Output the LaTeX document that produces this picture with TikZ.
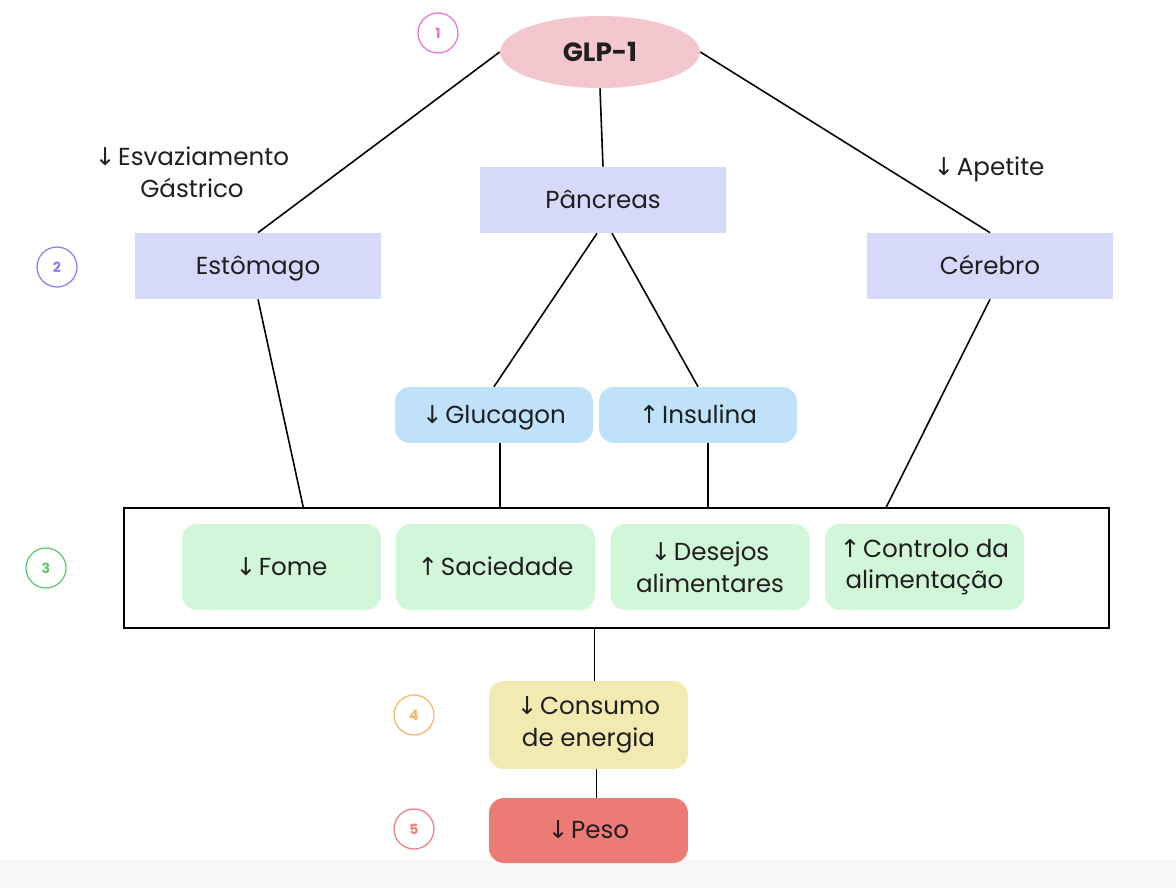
\documentclass[tikz,border=0pt]{standalone}
\usepackage{fontspec}
\setmainfont{Poppins}
\newfontfamily\arrowfont{DejaVu Sans}
\usepackage{tikz}
\usetikzlibrary{shapes.geometric, positioning, calc}

\definecolor{glppink}{HTML}{F4C7CF}
\definecolor{organlav}{HTML}{D7D9FB}
\definecolor{hormblue}{HTML}{BFE2FA}
\definecolor{effgreen}{HTML}{D2F7D8}
\definecolor{energyyel}{HTML}{F3EAB1}
\definecolor{weightred}{HTML}{EC7B78}
\definecolor{stepone}{HTML}{E870D6}
\definecolor{steptwo}{HTML}{8B7CF6}
\definecolor{stepthree}{HTML}{5CC96E}
\definecolor{stepfour}{HTML}{F6B66A}
\definecolor{stepfive}{HTML}{F17C7C}
\definecolor{footgray}{HTML}{F7F7F7}

\newcommand{\dnarr}{{\arrowfont\char"2193}\kern1.5pt}
\newcommand{\uparr}{{\arrowfont\char"2191}\kern1.5pt}

\begin{document}
\begin{tikzpicture}[
    x=0.02cm, y=-0.02cm,
    every node/.style={font=\fontsize{14}{18}\selectfont, text=black!88},
    oneline/.style={text height=11.5pt, text depth=2pt},
    organ/.style={rectangle, fill=organlav, minimum width=4.92cm, minimum height=1.32cm, align=center, oneline},
    hormone/.style={rectangle, fill=hormblue, rounded corners=0.3cm, minimum width=3.96cm, minimum height=1.12cm, align=center, oneline},
    effect/.style={rectangle, fill=effgreen, rounded corners=0.3cm, minimum width=3.98cm, minimum height=1.72cm, align=center},
    stepnum/.style={circle, draw, line width=0.7pt, minimum size=0.8cm, inner sep=0pt, font=\fontsize{8}{9}\selectfont\bfseries},
    note/.style={align=center},
    link/.style={line width=0.9pt, black}
]
\useasboundingbox (0,0) rectangle (1176,888);
\fill[footgray] (0,860) rectangle (1176,888);

% Step numbers (left)
\node[stepnum, draw=stepone, text=stepone] (n1) at (438,33) {1};
\node[stepnum, draw=steptwo, text=steptwo] (n2) at (57,267) {2};
\node[stepnum, draw=stepthree, text=stepthree] (n3) at (46,568) {3};
\node[stepnum, draw=stepfour, text=stepfour] (n4) at (414,715) {4};
\node[stepnum, draw=stepfive, text=stepfive] (n5) at (414,829) {5};

% Hormone
\node[ellipse, fill=glppink, minimum width=4cm, minimum height=1.44cm, font=\fontsize{15}{18}\selectfont\bfseries] (glp) at (600,52) {GLP-1};

% Organs
\node[organ] (panc) at (603,200) {Pâncreas};
\node[organ] (stom) at (258,266) {Estômago};
\node[organ] (cereb) at (990,266) {Cérebro};

% Side notes
\node[note] (esv) at (192,172) {\dnarr Esvaziamento\\Gástrico};
\node[note, oneline] (apet) at (989,167) {\dnarr Apetite};

% Pancreas hormones
\node[hormone] (gluc) at (494,415) {\dnarr Glucagon};
\node[hormone] (insu) at (698,415) {\uparr Insulina};

% Effects
\node[rectangle, draw=black, line width=1pt, minimum width=19.7cm, minimum height=2.4cm] (effects) at (616.5,568) {};
\node[effect, oneline] (fome) at (281.5,567) {\dnarr Fome};
\node[effect, oneline] (saci) at (495.5,567) {\uparr Saciedade};
\node[effect] (desej) at (710,567) {\dnarr Desejos\\alimentares};
\node[effect] (contr) at (924.5,567) {\uparr Controlo da\\alimentação};

% Outcome
\node[rectangle, fill=energyyel, rounded corners=0.3cm, minimum width=3.98cm, minimum height=1.76cm, align=center] (cons) at (588.5,725) {\dnarr Consumo\\de energia};
\node[rectangle, fill=weightred, rounded corners=0.3cm, minimum width=3.98cm, minimum height=1.3cm, align=center, oneline] (peso) at (588.5,830.5) {\dnarr Peso};

% Connectors
\draw[link] (glp.west) -- (stom.north);
\draw[link] (glp.south) -- (panc.north);
\draw[link] (glp.east) -- (cereb.north);
\draw[link] ([xshift=-0.12cm]panc.south) -- (gluc.north);
\draw[link] ([xshift=0.18cm]panc.south) -- (insu.north);
\draw[link] (stom.south) -- ($(effects.north west)+(180,0)$);
\draw[link] ([xshift=0.12cm]gluc.south) -- ([xshift=0.12cm]gluc.south |- effects.north);
\draw[link] ([xshift=0.2cm]insu.south) -- ([xshift=0.2cm]insu.south |- effects.north);
\draw[link] (cereb.south) -- ($(effects.north west)+(763,0)$);
\draw[link] ([xshift=0.12cm]cons.north |- effects.south) -- ([xshift=0.12cm]cons.north);
\draw[link] ([xshift=0.16cm]cons.south) -- ([xshift=0.16cm]peso.north);

\end{tikzpicture}
\end{document}
